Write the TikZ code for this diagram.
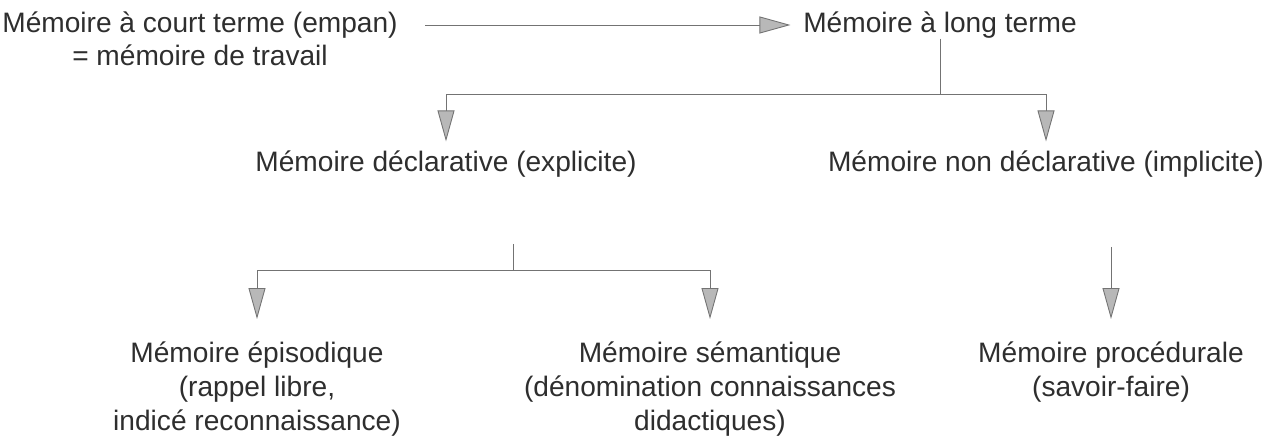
\documentclass[tikz,border=0pt]{standalone}
\usepackage{fontspec}
\setmainfont{Liberation Sans}
\usetikzlibrary{arrows.meta,positioning}
\tikzset{
	txt/.style={text=black!82, font=\fontsize{16}{19.6}\selectfont, inner sep=0pt, align=center},
	lien/.style={draw=black!55, line width=0.5pt},
	fleche/.style={lien, -{Triangle[length=0.62cm,width=0.34cm,fill=black!28]}}
}
\begin{document}
\begin{tikzpicture}[x=0.02cm,y=-0.02cm]
				\useasboundingbox (0,0) rectangle (1270,448);
				
				\node[txt] (court) at (200,25) {Mémoire à court terme (empan)};
				\node[txt, below=0.12cm of court] (travail) {= mémoire de travail};
				\node[txt] (long) at (940,25) {Mémoire à long terme};
				
				\node[txt] (decl) at (446,164) {Mémoire déclarative (explicite)};
				\node[txt] (nondecl) at (1046,164) {Mémoire non déclarative (implicite)};
				
				\node[txt, anchor=north] (epi) at (257,341) {Mémoire épisodique\\(rappel libre,\\indicé reconnaissance)};
				\node[txt, anchor=north] (sem) at (710,341) {Mémoire sémantique\\(dénomination connaissances\\didactiques)};
				\node[txt, anchor=north] (proc) at (1111,341) {Mémoire procédurale\\(savoir-faire)};
				
				\coordinate (b1) at (long.south |- 0,94);
				\coordinate (t2) at (513,244);
				\coordinate (b2) at (513,270);
				\coordinate (p1) at (1111,247);
				
				\draw[fleche, shorten <=0.55cm, shorten >=0.25cm] (court) -- (long);
				
				\draw[lien] (long.south) -- (b1);
				\draw[fleche, shorten >=0.18cm] (b1) -| (decl.north);
				\draw[fleche, shorten >=0.18cm] (b1) -| (nondecl.north);
				
				\draw[lien] (t2) -- (b2);
				\draw[fleche, shorten >=0.44cm] (b2) -| (epi.north);
				\draw[fleche, shorten >=0.44cm] (b2) -| (sem.north);
				\draw[fleche, shorten >=0.44cm] (p1) -- (proc.north);
\end{tikzpicture}
\end{document}
